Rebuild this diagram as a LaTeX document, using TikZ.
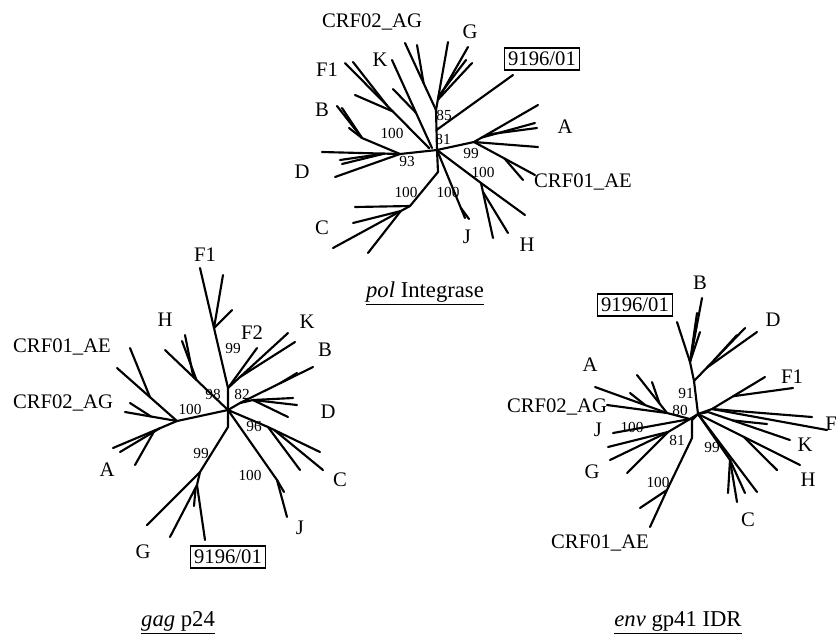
\documentclass[tikz,border=0pt]{standalone}
\usepackage{fontspec}
\setmainfont{Liberation Serif}
\usetikzlibrary{calc}
\begin{document}
\begin{tikzpicture}[x=0.75pt,y=-0.75pt,
  br/.style={line width=1.6pt,line cap=round,line join=round},
  lab/.style={font=\fontsize{15.5}{16}\selectfont,inner sep=0pt},
  bs/.style={font=\fontsize{11.5}{12}\selectfont,inner sep=0pt},
  idbox/.style={draw,line width=1pt,font=\fontsize{15.5}{16}\selectfont,inner sep=2.5pt,minimum width=75*0.75pt,minimum height=22*0.75pt},
  captxt/.style={font=\fontsize{17}{18}\selectfont,inner sep=0pt}]
\useasboundingbox (0,0) rectangle (837,637);

% ================= pol Integrase (top) =================
\coordinate (T0) at (437,150);
\coordinate (TD) at (400,154);
\coordinate (TB) at (362,138);
\coordinate (TU) at (436,110);
\coordinate (TA) at (474,142);
\coordinate (TC) at (410,206);
\coordinate (TH) at (481,183);
\coordinate (F1a) at (429,148);
\coordinate (F1e) at (345,63);
\coordinate (Ka) at (432,148);
\coordinate (Ke) at (392,60);
% D
\draw[br] (T0) -- (TD) -- (322,152);
\draw[br] ($(TD)!0.2!(322,152)$) -- (340,160);
\draw[br] ($(TD)!0.2!(322,152)$) -- (342,164);
\draw[br] (TD) -- (335,177);
% B
\draw[br] (TD) -- (TB) -- (337,106);
\draw[br] (TB) -- (342,108);
\draw[br] (TB) -- (349,128);
% F1
\draw[br] (F1a) -- (F1e);
\draw[br] ($(F1a)!0.5!(F1e)$) -- (353,62);
\draw[br] ($(F1a)!0.43!(F1e)$) -- (355,95);
% K
\draw[br] (Ka) -- (Ke);
\draw[br] ($(Ka)!0.4!(Ke)$) -- (393,89);
% CRF02_AG and G
\draw[br] (T0) -- (TU) -- (405,43);
\draw[br] ($(TU)!0.4!(405,43)$) -- (417,45);
\draw[br] (TU) -- (448,42);
\draw[br] ($(TU)!0.15!(448,42)$) -- (468,47);
\draw[br] ($(TU)!0.15!(448,42)$) -- (472,63);
\draw[br] ($(TU)!0.2!(448,42)$) -- (466,60);
% 9196/01
\draw[br] ($(T0)!0.5!(TU)$) -- (513,75);
% A
\draw[br] (T0) -- (TA) -- (538,105);
\draw[br] ($(TA)!0.12!(538,105)$) -- (535,123);
\draw[br] ($(TA)!0.2!(538,105)$) -- (537,128);
\draw[br] (TA) -- (538,147);
% CRF01_AE
\draw[br] (TA) -- (535,175);
\draw[br] ($(TA)!0.5!(535,175)$) -- (523,180);
% H
\draw[br] (T0) -- (TH) -- (525,215);
\draw[br] (TH) -- (493,238);
\draw[br] ($(TH)!0.16!(493,238)$) -- (508,233);
% J
\draw[br] (T0) -- (465,218);
\draw[br] ($(T0)!0.85!(465,218)$) -- (469,219);
% C
\draw[br] (T0) -- (438,172) -- (TC) -- (355,207);
\draw[br] (TC) -- (333,248);
\draw[br] ($(TC)!0.12!(333,248)$) -- (353,223);
\draw[br] ($(TC)!0.12!(333,248)$) -- (368,253);

\node[lab] (tcrf02) at (372,22) {CRF02\_AG};
\node[lab] (tg) at (470,32) {G};
\node[lab] (tf1) at (327,70) {F1};
\node[lab] (tk) at (380,60) {K};
\node[lab] (tb) at (322,110) {B};
\node[lab] (td) at (302,172) {D};
\node[lab] (ta) at (565,127) {A};
\node[lab] (tcrf01) at (583,182) {CRF01\_AE};
\node[lab] (tc) at (322,228) {C};
\node[lab] (tj) at (467,237) {J};
\node[lab] (th) at (527,245) {H};
\node[idbox] (tbox) at (542,59) {9196/01};
\node[bs] (t85) at (444,115) {85};
\node[bs] (t81) at (443,139) {81};
\node[bs] (t100a) at (392,133) {100};
\node[bs] (t93) at (407,161) {93};
\node[bs] (t99) at (471,153) {99};
\node[bs] (t100b) at (483,172) {100};
\node[bs] (t100c) at (406,192) {100};
\node[bs] (t100d) at (448,192) {100};
\node[captxt] (tcap) at (425,293) {\underline{\itshape pol\upshape\ Integrase}};

% ================= gag p24 (left) =================
\coordinate (L0) at (228,410);
\coordinate (LF) at (228,388);
\coordinate (LBj) at (240,403);
\coordinate (LDj) at (253,400);
\coordinate (LJ) at (177,421);
\coordinate (LG) at (200,472);
\coordinate (LG2) at (197,485);
\coordinate (LJJ) at (277,480);
\coordinate (LC) at (268,427);
% F1
\draw[br] (L0) -- (LF) -- (200,268);
\draw[br] ($(LF)!0.5!(200,268)$) -- (223,275);
\draw[br] ($(LF)!0.5!(200,268)$) -- (232,310);
% F2 and K
\draw[br] (LF) -- (257,348);
\draw[br] (LF) -- (288,333);
\draw[br] ($(LF)!0.2!(288,333)$) -- (295,342);
% B
\draw[br] (L0) -- (LBj) -- (313,367);
\draw[br] ($(LBj)!0.55!(313,367)$) -- (297,373);
% D
\draw[br] (LBj) -- (LDj) -- (293,398);
\draw[br] (LDj) -- (297,405);
\draw[br] (LDj) -- (288,417);
% H
\draw[br] (L0) -- (165,350);
\draw[br] ($(L0)!0.55!(165,350)$) -- (185,335);
\draw[br] ($(L0)!0.5!(165,350)$) -- (182,341);
% CRF02_AG, CRF01_AE, A
\draw[br] (L0) -- (LJ) -- (125,412);
\draw[br] ($(LJ)!0.5!(125,412)$) -- (130,403);
\draw[br] (LJ) -- (117,368);
\draw[br] ($(LJ)!0.45!(117,368)$) -- (130,348);
\draw[br] (LJ) -- (113,448);
\draw[br] ($(LJ)!0.27!(113,448)$) -- (120,452);
\draw[br] ($(LJ)!0.35!(113,448)$) -- (135,465);
% G and 9196/01
\draw[br] (L0) -- (228,427) -- (LG) -- (147,525);
\draw[br] (LG) -- (LG2) -- (170,537);
\draw[br] (LG2) -- (205,540);
\draw[br] ($(LG2)!0.05!(170,537)$) -- (194,506);
% J
\draw[br] (L0) -- (LJJ) -- (287,517);
\draw[br] (LJJ) -- (284,492);
% C
\draw[br] (L0) -- (LC) -- (320,452);
\draw[br] (LC) -- (300,470);
\draw[br] ($(LC)!0.12!(320,452)$) -- (323,470);

\node[lab] (lf1) at (205,255) {F1};
\node[lab] (lf2) at (252,333) {F2};
\node[lab] (lk) at (307,322) {K};
\node[lab] (lb) at (325,350) {B};
\node[lab] (ld) at (328,412) {D};
\node[lab] (lh) at (165,320) {H};
\node[lab] (lcrf01) at (62,347) {CRF01\_AE};
\node[lab] (lcrf02) at (63,403) {CRF02\_AG};
\node[lab] (la) at (107,470) {A};
\node[lab] (lc) at (340,480) {C};
\node[lab] (lj) at (300,528) {J};
\node[lab] (lg) at (143,552) {G};
\node[idbox] (lbox) at (228,557) {9196/01};
\node[bs] (l99a) at (233,348) {99};
\node[bs] (l82) at (242,394) {82};
\node[bs] (l98) at (213,394) {98};
\node[bs] (l100a) at (190,409) {100};
\node[bs] (l96) at (254,426) {96};
\node[bs] (l99b) at (201,453) {99};
\node[bs] (l100b) at (250,475) {100};
\node[captxt] (lcap) at (178,623) {\underline{\itshape gag\upshape\ p24}};

% ================= env gp41 IDR (right) =================
\coordinate (R0) at (698,414);
\coordinate (RU) at (694,381);
\coordinate (RB) at (690,362);
\coordinate (RF) at (712,409);
\coordinate (RK) at (708,412);
\coordinate (RC) at (730,460);
\coordinate (RE) at (667,490);
\coordinate (RG) at (690,419);
\coordinate (RGj) at (668,432);
\coordinate (RA) at (667,413);
% 9196/01 and B
\draw[br] (R0) -- (RU) -- (RB) -- (677,322);
\draw[br] (RB) -- (702,298);
\draw[br] (RB) -- (697,313);
\draw[br] (RB) -- (700,332);
% D
\draw[br] (RU) -- (745,328);
\draw[br] ($(RU)!0.25!(745,328)$) -- (757,332);
\draw[br] ($(RU)!0.4!(745,328)$) -- (737,335);
% F1 and F
\draw[br] (R0) -- (RF) -- (765,377);
\draw[br] ($(RF)!0.4!(765,377)$) -- (793,388);
\draw[br] (RF) -- (827,430);
\draw[br] (RF) -- (812,417);
% K
\draw[br] (R0) -- (RK) -- (790,440);
\draw[br] ($(RK)!0.3!(790,440)$) -- (767,424);
% H
\draw[br] (R0) -- (800,465);
\draw[br] ($(R0)!0.45!(800,465)$) -- (777,470);
% C
\draw[br] (R0) -- (RC) -- (737,502);
\draw[br] (RC) -- (728,493);
\draw[br] (RC) -- (745,493);
\draw[br] (R0) -- (757,492);
% CRF01_AE
\draw[br] (R0) -- (692,420) -- (692,438) -- (RE) -- (640,508);
\draw[br] (RE) -- (650,527);
% J and G
\draw[br] (R0) -- (RG) -- (613,433);
\draw[br] (RG) -- (RGj) -- (608,447);
\draw[br] (RGj) -- (610,460);
\draw[br] (RGj) -- (627,473);
% A and CRF02_AG
\draw[br] (RG) -- (RA) -- (607,405);
\draw[br] (RA) -- (595,387);
\draw[br] (RA) -- (637,375);
\draw[br] ($(RA)!0.25!(637,375)$) -- (652,382);
\draw[br] ($(RA)!0.3!(595,387)$) -- (630,393);

\node[lab] (rb) at (700,283) {B};
\node[lab] (rd) at (773,320) {D};
\node[lab] (rf1) at (792,377) {F1};
\node[lab,anchor=west] (rf) at (825,424) {F};
\node[lab] (rk) at (805,445) {K};
\node[lab] (rh) at (808,480) {H};
\node[lab] (rc) at (748,520) {C};
\node[lab] (rcrf01) at (600,543) {CRF01\_AE};
\node[lab] (rg) at (592,472) {G};
\node[lab] (rj) at (598,430) {J};
\node[lab] (rcrf02) at (557,407) {CRF02\_AG};
\node[lab] (ra) at (590,365) {A};
\node[idbox] (rbox) at (635,305) {9196/01};
\node[bs] (r91) at (686,393) {91};
\node[bs] (r80) at (680,410) {80};
\node[bs] (r100a) at (632,427) {100};
\node[bs] (r81) at (677,440) {81};
\node[bs] (r99) at (712,447) {99};
\node[bs] (r100b) at (658,482) {100};
\node[captxt] (rcap) at (678,623) {\underline{\itshape env\upshape\ gp41 IDR}};
\end{tikzpicture}
\end{document}
